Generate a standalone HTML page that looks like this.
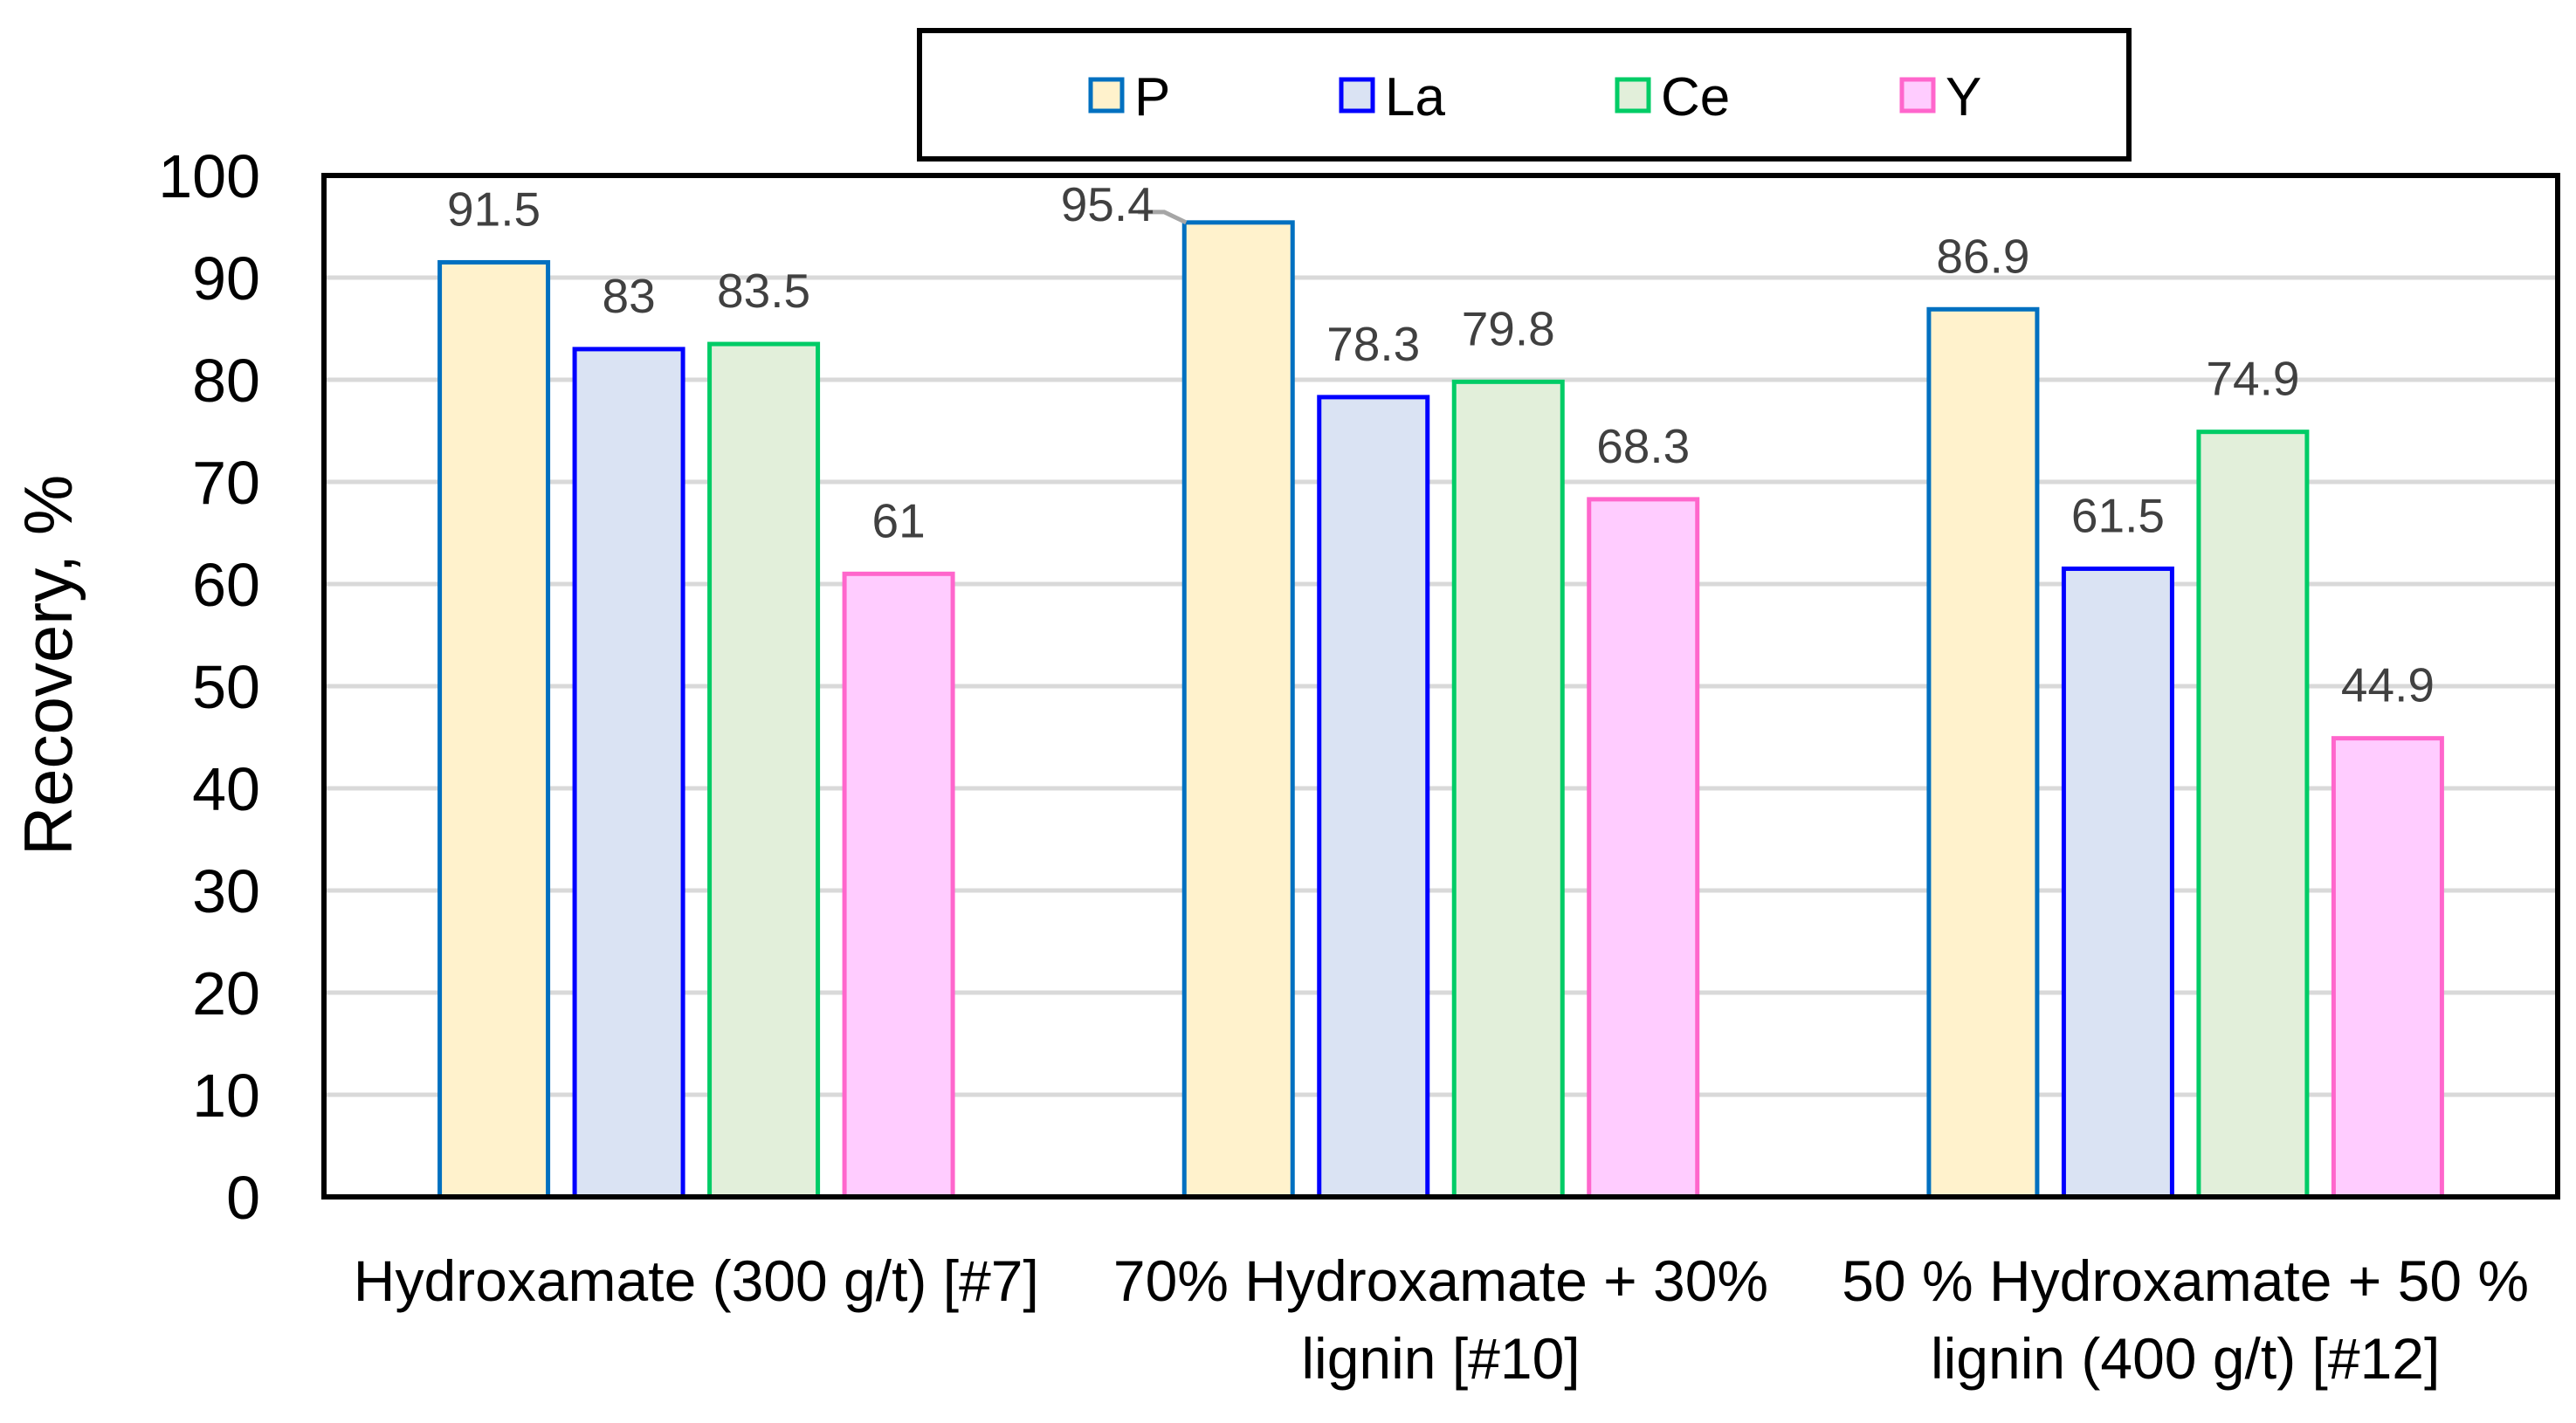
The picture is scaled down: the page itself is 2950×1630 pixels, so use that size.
<!DOCTYPE html>
<html><head><meta charset="utf-8"><style>
html,body{margin:0;padding:0;background:#fff;}
svg{display:block;}
text{font-family:"Liberation Sans",sans-serif;}
</style></head><body>
<svg id="chart" width="2950" height="1630" viewBox="0 0 2950 1630" xmlns="http://www.w3.org/2000/svg">
<rect x="0" y="0" width="2950" height="1630" fill="#fff"/>
<g id="grid"></g><g id="bars"></g><g id="labels"></g><g id="axes"></g><g id="legend"></g>
</svg>
<script>
const categories = [["Hydroxamate (300 g/t) [#7]"],["70% Hydroxamate + 30%","lignin [#10]"],["50 % Hydroxamate + 50 %","lignin (400 g/t) [#12]"]];
const seriesNames = ["P","La","Ce","Y"];
const valuesP = [91.5, 95.4, 86.9];
const valuesLa = [83, 78.3, 61.5];
const valuesCe = [83.5, 79.8, 74.9];
const valuesY = [61, 68.3, 44.9];
const yTicks = [0,10,20,30,40,50,60,70,80,90,100];

const series = [valuesP, valuesLa, valuesCe, valuesY];
const fills = ["#fff2cc","#dae3f3","#e2efda","#ffccff"];
const strokes = ["#0070c0","#0000ff","#00cc66","#ff66cc"];
const NS = "http://www.w3.org/2000/svg";
const L=371, R=2929, T=201, B=1371;
function y(v){return B-(v/100)*(B-T);}
const catW=(R-L)/categories.length;
function x(ci,si){return L+catW*ci+catW/2+(si-1.5)*154.5;}
function mk(tag,attrs,parent){const e=document.createElementNS(NS,tag);for(const k in attrs)e.setAttribute(k,attrs[k]);parent.appendChild(e);return e;}
const grid=document.getElementById('grid'),bars=document.getElementById('bars'),labels=document.getElementById('labels'),axes=document.getElementById('axes'),legend=document.getElementById('legend');
yTicks.forEach(t=>{
  if(t>0&&t<100){const g=mk('line',{x1:L,x2:R,y1:y(t),y2:y(t),stroke:'#d9d9d9','stroke-width':5},grid);
  
  }
  const tl=mk('text',{x:298,y:y(t)+25,'text-anchor':'end','font-size':70,fill:'#000'},axes);tl.textContent=t;
  
  
});
series.forEach((vals,si)=>{
  vals.forEach((v,ci)=>{
    const cx=x(ci,si);
    const r=mk('rect',{x:cx-62,y:y(v),width:124,height:B-y(v),fill:fills[si],stroke:strokes[si],'stroke-width':5},bars);
    
    
    let lx=cx, ly=y(v)-42;
    if(si===0&&ci===1){lx=cx-150;ly=y(v)+-2;
      const ld=mk('polyline',{points:(cx-115)+','+(y(v)-12)+' '+(cx-85)+','+(y(v)-12)+' '+(cx-60)+','+(y(v)),fill:'none',stroke:'#a6a6a6','stroke-width':5},labels);
      
      
    }
    const t=mk('text',{x:lx,y:ly,'text-anchor':'middle','font-size':55,fill:'#404040'},labels);
    t.textContent=v;
    
    
  });
});
categories.forEach((lines,ci)=>{
  const cx=L+catW*ci+catW/2;
  lines.forEach((ln,li)=>{
    const t=mk('text',{x:cx,y:1490+li*89,'text-anchor':'middle','font-size':66,fill:'#000'},axes);
    t.textContent=ln;
    
    
  });
});
const frame=mk('rect',{x:L,y:T,width:R-L,height:B-T,fill:'none',stroke:'#000','stroke-width':6},axes);


const yt=mk('text',{x:0,y:0,transform:'translate(82,762) rotate(-90)','text-anchor':'middle','font-size':78,fill:'#000'},axes);
yt.textContent='Recovery, %';


const lb=mk('rect',{x:1053,y:35,width:1385,height:147,fill:'#fff',stroke:'#000','stroke-width':6},legend);


const lxs=[1249,1536,1852,2178];
seriesNames.forEach((n,si)=>{
  const m=mk('rect',{x:lxs[si],y:91,width:36,height:36,fill:fills[si],stroke:strokes[si],'stroke-width':5},legend);
  
  
  const t=mk('text',{x:lxs[si]+50,y:132,'font-size':62,fill:'#000'},legend);
  t.textContent=n;
  
  
});
</script>
</body></html>
